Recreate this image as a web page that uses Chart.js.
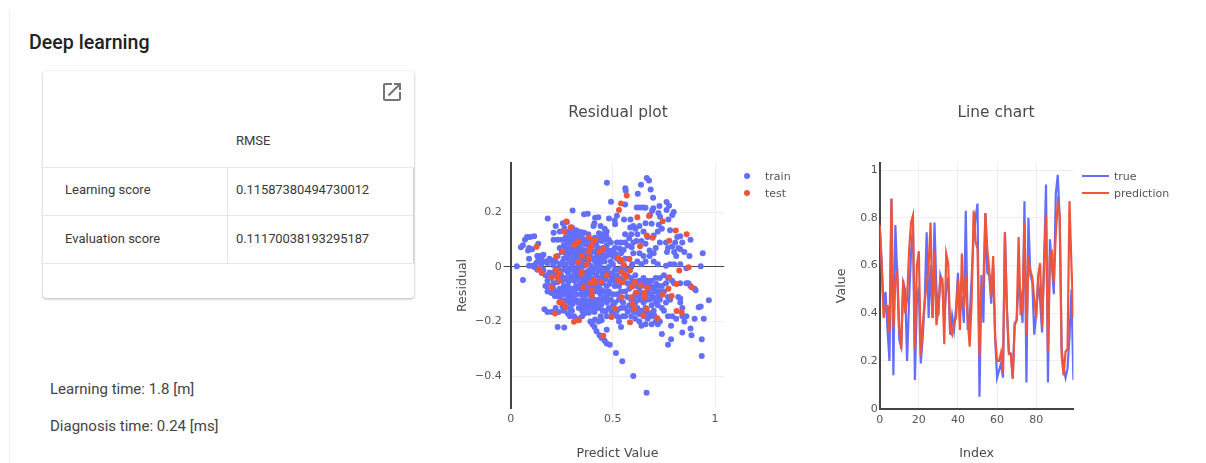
<!DOCTYPE html>
<html>
<head>
<meta charset="utf-8">
<title>Deep learning</title>
<script src="https://cdn.jsdelivr.net/npm/chart.js@4"></script>
<style>
    html, body { margin: 0; padding: 0; background: #fff; }
    body { width: 1206px; height: 463px; position: relative; overflow: hidden; font-family: Roboto, "Liberation Sans", sans-serif; color: #333; }
    .abs { position: absolute; white-space: nowrap; }
    .rule { position: absolute; background: #e6e6e6; }
    #card { position: absolute; left: 43px; top: 71px; width: 371px; height: 227px; border-radius: 4px; background: #fff;
            box-shadow: 0 1px 3px rgba(0,0,0,0.28), 0 0 2px rgba(0,0,0,0.06); }
    .cell { position: absolute; font-size: 13px; line-height: 16px; white-space: nowrap; color: #3a3a3a; }
    .num { letter-spacing: -0.1px; }
    canvas { position: absolute; top: 90px; }
    .legend-item { position: absolute; font: 11px "DejaVu Sans", sans-serif; color: #555; white-space: nowrap; line-height: 14px; }
    .legend-mark { position: absolute; }
</style>
</head>
<body>
<div class="rule" style="left:9px;top:10px;width:1px;height:453px;background:#eeeeee"></div>
<div class="abs" style="left:29px;top:31px;font-size:19.6px;font-weight:500;line-height:24px;color:#222">Deep learning</div>

<div id="card">
    <svg style="position:absolute;left:337px;top:9px" width="24" height="24" viewBox="0 0 24 24" fill="#757575"><path d="M19 19H5V5h7V3H5c-1.11 0-2 .9-2 2v14c0 1.1.89 2 2 2h14c1.1 0 2-.9 2-2v-7h-2v7zM14 3v2h3.59l-9.83 9.83 1.41 1.41L19 6.41V10h2V3h-7z"/></svg>
    <div class="cell" style="left:193px;top:62px">RMSE</div>
    <div class="rule" style="left:0;top:96px;width:371px;height:1px"></div>
    <div class="cell" style="left:22px;top:111px">Learning score</div>
    <div class="cell num" style="left:193px;top:111px">0.11587380494730012</div>
    <div class="rule" style="left:0;top:144px;width:370px;height:1px"></div>
    <div class="cell" style="left:22px;top:160px">Evaluation score</div>
    <div class="cell num" style="left:193px;top:160px">0.11170038193295187</div>
    <div class="rule" style="left:0;top:192px;width:371px;height:1px"></div>
    <div class="rule" style="left:184px;top:97px;width:1px;height:95px"></div>
    <div class="rule" style="left:370px;top:97px;width:1px;height:95px;background:#cfcfcf"></div>
</div>

<div class="abs" style="left:50px;top:380px;font-size:15px;line-height:18px;color:#444">Learning time: 1.8 [m]</div>
<div class="abs" style="left:50px;top:417px;font-size:15px;line-height:18px;color:#444">Diagnosis time: 0.24 [ms]</div>

<canvas id="residualChart" style="left:440px" width="356" height="373"></canvas>
<canvas id="lineChart" style="left:820px" width="352" height="373"></canvas>
<div id="residual-legend"></div>
<div id="line-legend"></div>

<script>
// Residual plot data: [predict value, residual]
const trainPoints = [
    // upper right
    [.666,.326],[.677,.317],[.638,.301],[.561,.288],[.563,.279],[.685,.284],[.622,.268],[.697,.254],[.763,.238],[.775,.224],
    [.728,.223],[.617,.218],[.633,.218],[.649,.218],[.66,.217],[.698,.215],[.692,.206],[.763,.209],[.723,.198],[.798,.201],
    [.791,.19],[.682,.19],[.772,.174],[.731,.184],[.555,.174],[.586,.174],[.6,.15],[.585,.145],[.61,.14],[.63,.15],
    [.66,.16],[.69,.158],[.725,.155],[.74,.14],[.72,.13],[.78,.135],[.59,.12],[.56,.12],[.58,.105],[.62,.12],
    [.65,.13],[.67,.11],[.7,.115],[.73,.09],[.76,.09],[.83,.113],[.815,.11],[.805,.09],[.88,.1],[.84,.09],
    [.79,.075],[.82,.07],[.765,.055],[.8,.055],[.81,.04],[.83,.065],[.85,.055],[.875,.04],[.94,.05],[.77,.07],
    [.6,.09],[.56,.09],[.615,.095],[.64,.095],[.66,.085],[.68,.06],[.7,.05],[.71,.07],[.68,.04],[.65,.04],
    [.63,.05],[.6,.05],[.66,.02],[.7,.02],[.72,.01],[.76,.005],[.78,.01],[.8,.01],[.83,.01],[.86,-.005],
    [.93,.003],[.595,.01],[.62,.02],[.64,.01],
    // upper middle
    [.471,.309],[.491,.239],[.56,.229],[.52,.188],[.481,.178],[.509,.17],[.511,.157],[.413,.18],[.429,.182],[.41,.16],
    [.405,.15],[.44,.15],[.46,.14],[.47,.13],[.45,.12],[.44,.11],[.43,.1],[.46,.1],[.48,.1],[.49,.09],
    [.42,.09],[.5,.06],[.52,.09],[.54,.09],[.51,.07],[.47,.08],[.45,.07],[.43,.06],[.48,.06],[.5,.04],
    [.47,.04],[.45,.03],[.42,.04],[.44,.02],[.46,.02],[.49,.02],[.52,.03],[.54,.05],[.56,.03],[.58,.03],
    [.535,.02],[.5,.01],[.48,0],[.44,0],[.42,.01],[.46,-.01],[.51,-.01],[.53,-.01],[.55,0],[.57,-.01],[.59,0],
    // upper left
    [.303,.207],[.359,.193],[.377,.195],[.181,.178],[.22,.15],[.255,.16],[.275,.165],[.24,.13],[.3,.145],[.32,.135],
    [.33,.13],[.36,.125],[.38,.12],[.29,.12],[.31,.115],[.34,.115],[.27,.11],[.29,.1],[.31,.1],[.33,.1],
    [.35,.105],[.37,.1],[.21,.1],[.23,.1],[.25,.1],[.21,.125],[.28,.09],[.3,.085],[.32,.08],[.34,.085],
    [.36,.09],[.38,.08],[.4,.08],[.26,.08],[.27,.07],[.24,.07],[.29,.07],[.31,.065],[.33,.06],[.35,.065],
    [.37,.06],[.39,.05],[.25,.055],[.27,.05],[.29,.05],[.31,.05],[.33,.04],[.35,.045],[.37,.04],[.4,.03],
    [.23,.04],[.26,.03],[.28,.03],[.3,.03],[.32,.02],[.34,.025],[.36,.02],[.38,.02],[.27,.01],[.3,.01],
    [.33,.005],[.36,.005],[.39,.005],[.41,-.005],[.24,.01],[.22,.02],[.2,.025],[.18,.015],[.19,.03],
    // far left
    [.03,.003],[.06,-.048],[.05,.072],[.06,.08],[.07,.1],[.08,.11],[.095,.11],[.115,.113],[.085,.06],[.09,.07],
    [.105,.065],[.135,.085],[.13,.04],[.145,.04],[.16,.045],[.15,.03],[.135,.025],[.125,.015],[.09,.03],[.09,.005],
    [.105,.005],[.115,0],[.13,-.01],[.17,.02],[.15,.01],
    // lower left
    [.145,-.005],[.16,-.01],[.17,-.03],[.19,-.02],[.18,-.05],[.2,-.04],[.17,-.07],[.19,-.07],[.21,-.06],[.22,-.03],
    [.24,-.02],[.26,-.01],[.28,-.02],[.3,-.01],[.32,-.01],[.34,-.02],[.36,-.02],[.38,-.015],[.4,-.02],[.25,-.05],
    [.27,-.04],[.29,-.04],[.31,-.05],[.33,-.03],[.35,-.04],[.37,-.05],[.39,-.04],[.18,-.09],[.2,-.095],[.22,-.09],
    [.24,-.08],[.26,-.07],[.28,-.07],[.3,-.08],[.32,-.07],[.34,-.06],[.36,-.07],[.38,-.07],[.4,-.06],[.24,-.11],
    [.26,-.1],[.28,-.1],[.3,-.11],[.32,-.1],[.34,-.1],[.36,-.1],[.38,-.1],[.4,-.09],[.25,-.13],[.27,-.125],
    [.29,-.13],[.31,-.12],[.33,-.13],[.35,-.12],[.37,-.13],[.39,-.12],[.41,-.12],[.165,-.155],[.18,-.165],[.2,-.165],
    [.22,-.15],[.235,-.165],[.26,-.16],[.28,-.17],[.3,-.16],[.31,-.18],[.29,-.18],[.35,-.16],[.37,-.15],[.36,-.17],
    [.39,-.15],[.23,-.22],[.262,-.222],[.35,-.18],[.33,-.19],
    // lower middle
    [.42,-.03],[.44,-.04],[.46,-.03],[.48,-.03],[.5,-.04],[.52,-.03],[.43,-.07],[.45,-.06],[.47,-.07],[.49,-.05],
    [.51,-.07],[.53,-.07],[.55,-.05],[.57,-.06],[.59,-.04],[.42,-.09],[.44,-.1],[.46,-.09],[.48,-.09],[.5,-.1],
    [.52,-.1],[.54,-.09],[.56,-.09],[.58,-.08],[.43,-.12],[.45,-.12],[.47,-.13],[.49,-.12],[.51,-.13],[.53,-.12],
    [.55,-.13],[.57,-.11],[.59,-.12],[.41,-.15],[.43,-.15],[.45,-.16],[.48,-.15],[.5,-.14],[.52,-.16],[.54,-.15],
    [.56,-.15],[.58,-.14],[.41,-.165],[.44,-.18],[.445,-.195],[.43,-.2],[.47,-.18],[.39,-.2],[.4,-.21],[.41,-.22],
    [.42,-.235],[.435,-.25],[.445,-.26],[.46,-.27],[.47,-.28],[.485,-.285],[.47,-.23],[.515,-.315],[.546,-.345],[.6,-.399],
    [.665,-.461],[.53,-.2],[.54,-.22],[.55,-.18],[.53,-.185],[.56,-.18],[.5,-.17],[.52,-.18],
    // lower right
    [.61,-.03],[.63,-.05],[.65,-.04],[.67,-.05],[.69,-.05],[.71,-.04],[.73,-.04],[.75,-.03],[.77,-.04],[.79,-.05],
    [.6,-.07],[.62,-.07],[.64,-.07],[.66,-.07],[.68,-.07],[.7,-.08],[.72,-.07],[.74,-.07],[.76,-.06],[.8,-.06],
    [.83,-.06],[.86,-.06],[.87,-.06],[.88,-.07],[.9,-.08],[.905,-.085],[.61,-.1],[.63,-.09],[.65,-.1],[.67,-.09],
    [.69,-.1],[.71,-.09],[.73,-.09],[.75,-.09],[.77,-.11],[.82,-.11],[.83,-.115],[.61,-.13],[.63,-.12],[.65,-.13],
    [.67,-.12],[.69,-.14],[.71,-.13],[.73,-.12],[.76,-.13],[.78,-.12],[.83,-.13],[.84,-.15],[.97,-.122],[.93,-.145],
    [.92,-.147],[.6,-.16],[.62,-.15],[.64,-.16],[.66,-.15],[.68,-.17],[.7,-.16],[.72,-.14],[.75,-.16],[.74,-.15],
    [.77,-.18],[.79,-.18],[.81,-.19],[.59,-.18],[.61,-.19],[.63,-.2],[.65,-.18],[.67,-.19],[.69,-.18],[.71,-.2],
    [.73,-.2],[.72,-.21],[.64,-.215],[.66,-.21],[.69,-.21],[.74,-.245],[.785,-.215],[.84,-.18],[.86,-.18],[.85,-.2],
    [.9,-.19],[.945,-.19],[.88,-.225],[.84,-.24],[.885,-.25],[.935,-.265],[.935,-.326],[.785,-.265],[.77,-.285],
    // dense core, left of 0.5
    [.283,.128],[.307,.133],[.322,.117],[.347,.127],[.263,.143],[.274,.097],[.296,.113],[.315,.092],[.338,.072],[.352,.096],
    [.367,.083],[.392,.098],[.412,.107],[.432,.124],[.447,.095],[.468,.113],[.283,.062],[.303,.058],[.322,.051],[.344,.053],
    [.362,.037],[.384,.043],[.408,.058],[.423,.073],[.442,.048],[.463,.063],[.487,.047],[.274,.038],[.293,.021],[.314,.036],
    [.352,.012],[.372,.027],[.393,.033],[.413,.021],[.433,.034],[.456,.044],[.208,.006],[.233,-.008],[.253,.017],[.283,-.007],
    [.313,-.027],[.343,-.008],[.373,-.03],[.396,-.013],[.428,-.013],[.448,-.022],[.472,-.017],[.497,-.022],[.193,-.036],[.212,-.018],
    [.183,-.072],[.207,-.077],[.228,-.056],[.247,-.031],[.263,-.047],[.283,-.053],[.302,-.034],[.323,-.046],[.342,-.036],[.362,-.054],
    [.383,-.033],[.403,-.043],[.433,-.05],[.463,-.046],[.483,-.062],[.217,-.107],[.236,-.094],[.252,-.088],[.273,-.086],[.293,-.092],
    [.313,-.083],[.333,-.078],[.353,-.088],[.373,-.083],[.393,-.076],[.413,-.073],[.443,-.083],[.473,-.103],[.263,-.122],[.283,-.116],
    [.303,-.136],[.323,-.122],[.343,-.136],[.363,-.118],[.383,-.136],[.403,-.134],[.423,-.136],[.443,-.139],[.463,-.112],[.273,-.147],
    [.293,-.153],[.333,-.15],[.352,-.143],[.383,-.168],[.413,-.192],[.463,-.162],[.493,-.163],[.253,-.145],
    // right of 0.5, in between the rows
    [.513,.048],[.533,.068],[.553,.062],[.572,.079],[.592,.072],[.513,-.052],[.532,-.043],[.553,-.028],[.573,-.033],[.593,-.057],
    [.613,-.053],[.633,-.072],[.653,-.058],[.673,-.083],[.693,-.073],[.713,-.062],[.603,-.113],[.623,-.103],[.643,-.114],[.663,-.103],
    [.683,-.118],[.703,-.113],[.723,-.107],[.613,-.168],[.633,-.173],[.653,-.163],[.673,-.172],[.703,-.178],[.593,-.148],[.573,-.163]
];
const testPoints = [
    [.127,.074],[.139,-.009],[.152,-.022],[.2,-.038],[.2,-.074],[.217,-.17],[.222,.038],[.22,-.011],[.238,-.021],[.228,-.038],
    [.238,-.05],[.238,-.129],[.25,-.128],[.266,-.146],[.253,.057],[.261,.13],[.272,.167],[.294,.146],[.31,.08],[.323,.087],
    [.331,.093],[.331,.018],[.347,.04],[.347,-.017],[.347,-.026],[.356,-.074],[.31,-.201],[.334,-.195],[.372,.009],[.383,.032],
    [.383,.056],[.383,.109],[.405,.099],[.413,.099],[.396,.08],[.388,.068],[.388,-.06],[.408,-.048],[.413,-.057],[.396,-.084],
    [.398,-.106],[.434,.056],[.453,.066],[.444,-.054],[.47,-.03],[.453,-.252],[.493,-.183],[.511,-.152],[.53,.209],[.54,.233],
    [.568,.262],[.527,.032],[.543,.026],[.555,.007],[.581,.029],[.543,-.017],[.555,-.026],[.564,-.038],[.527,-.048],[.546,-.056],
    [.584,-.013],[.543,-.111],[.592,-.072],[.608,-.057],[.638,-.068],[.669,-.076],[.613,-.093],[.653,-.094],[.592,-.111],[.653,-.112],
    [.597,-.135],[.605,-.154],[.666,-.154],[.649,-.178],[.584,-.202],[.718,-.188],[.744,-.102],[.772,-.08],[.788,-.106],[.776,-.038],
    [.812,-.062],[.812,-.161],[.837,-.166],[.886,-.074],[.825,-.013],[.871,-.001],[.861,.12],[.808,.134],[.776,.096],[.744,.168],
    [.677,.187],[.62,.182],[.633,.076],[.666,.115],[.695,.107]
];

// Line chart data: one value per index, 0 to 99
const trueValues = [
    .77,.62,.42,.49,.33,.20,.88,.14,.77,.55, .29,.26,.53,.50,.20,.45,.65,.77,.12,.45,
    .51,.19,.30,.45,.74,.38,.60,.38,.78,.50, .39,.56,.53,.37,.50,.55,.31,.39,.33,.42,
    .57,.40,.47,.36,.83,.33,.38,.55,.72,.80, .86,.05,.56,.36,.82,.57,.56,.44,.60,.30,
    .13,.16,.19,.13,.74,.42,.24,.23,.13,.36, .37,.53,.49,.36,.87,.11,.80,.56,.53,.31,
    .40,.53,.45,.32,.60,.94,.11,.71,.60,.48, .90,.98,.80,.25,.17,.13,.17,.30,.50,.12
];
const predictionValues = [
    .77,.60,.38,.43,.43,.32,.88,.34,.54,.57, .34,.25,.54,.40,.46,.66,.78,.81,.25,.60,
    .66,.22,.35,.45,.52,.60,.78,.38,.66,.35, .42,.55,.545,.27,.65,.61,.33,.31,.36,.38,
    .54,.33,.65,.42,.56,.37,.26,.45,.83,.70, .67,.22,.52,.52,.82,.67,.58,.47,.64,.30,
    .20,.20,.235,.15,.74,.42,.23,.23,.125,.35, .37,.72,.40,.41,.78,.31,.62,.58,.55,.46,
    .38,.56,.61,.34,.62,.81,.24,.64,.655,.53, .73,.86,.81,.22,.14,.24,.25,.87,.60,.38
];
const lineIndex = trueValues.map((_, i) => i);

const scatterXTicks = [0, 0.5, 1];
const scatterYTicks = [-0.4, -0.2, 0, 0.2];

const fontName = '"DejaVu Sans", Verdana, sans-serif';
const blue = '#636efa';
const red = '#ef553b';
const textColor = '#555';
const axisColor = '#444';
const gridColor = '#eeeeee';

function axisTitle(text, padding) {
    return { display: true, text: text, color: '#4a4a4a', font: { family: fontName, size: 12.6 }, padding: padding };
}

function plotTitle(text) {
    return { display: true, text: text, color: '#4a4a4a', font: { family: fontName, size: 15.4, weight: 'normal' }, padding: { top: 14, bottom: 40.5 } };
}

// Empty axis on the right, keeps room for the legend while the title stays centered on the whole canvas
function legendGutter(width) {
    return {
        position: 'right',
        afterFit: s => { s.width = width; },
        border: { display: false },
        grid: { display: false },
        ticks: { display: false }
    };
}

const tickFont = { family: fontName, size: 11 };

// Minus sign like the original axis labels
function residualLabel(value) {
    if (Math.abs(value) < 1e-9) return '0';
    return (value < 0 ? '\u2212' : '') + Math.abs(value);
}

// ==================== RESIDUAL PLOT ====================
new Chart(document.getElementById('residualChart').getContext('2d'), {
    type: 'scatter',
    data: {
        datasets: [
            { label: 'train', order: 2, data: trainPoints.map(p => ({ x: p[0], y: p[1] })), backgroundColor: blue, borderWidth: 0, pointRadius: 3 },
            { label: 'test', order: 1, data: testPoints.map(p => ({ x: p[0], y: p[1] })), backgroundColor: red, borderWidth: 0, pointRadius: 3 }
        ]
    },
    options: {
        responsive: false,
        animation: false,
        layout: { padding: 0 },
        plugins: { legend: { display: false }, tooltip: { enabled: false }, title: plotTitle('Residual plot') },
        scales: {
            x: {
                type: 'linear', min: 0, max: 1.0455,
                afterBuildTicks: s => { s.ticks = scatterXTicks.map(v => ({ value: v })); },
                afterFit: s => { s.height = 55; },
                border: { display: false },
                grid: { color: gridColor, drawTicks: false },
                ticks: { color: textColor, font: tickFont, padding: 5, maxRotation: 0, callback: v => String(v) },
                title: axisTitle('Predict Value', { top: 0, bottom: 2 })
            },
            y: {
                min: -0.5165, max: 0.381,
                afterBuildTicks: s => { s.ticks = scatterYTicks.map(v => ({ value: v })); },
                afterFit: s => { s.width = 70.7; },
                border: { color: axisColor, width: 2 },
                grid: {
                    tickLength: 7,
                    color: c => (c.tick && c.tick.value === 0 ? axisColor : gridColor),
                    tickColor: c => (c.tick && c.tick.value === 0 ? axisColor : 'rgba(0,0,0,0)')
                },
                ticks: { color: textColor, font: tickFont, padding: 2, callback: residualLabel },
                title: axisTitle('Residual', { top: 15, bottom: 0 })
            },
            gutter: legendGutter(71.7)
        }
    }
});

// ==================== LINE CHART ====================
new Chart(document.getElementById('lineChart').getContext('2d'), {
    type: 'line',
    data: {
        labels: lineIndex,
        datasets: [
            { label: 'true', order: 2, data: trueValues, borderColor: blue, backgroundColor: blue, borderWidth: 2.2, pointRadius: 0, tension: 0 },
            { label: 'prediction', order: 1, data: predictionValues, borderColor: red, backgroundColor: red, borderWidth: 2.2, pointRadius: 0, tension: 0 }
        ]
    },
    options: {
        responsive: false,
        animation: false,
        layout: { padding: 0 },
        plugins: { legend: { display: false }, tooltip: { enabled: false }, title: plotTitle('Line chart') },
        scales: {
            x: {
                type: 'linear', min: 0, max: 99,
                afterFit: s => { s.height = 54.3; },
                border: { color: axisColor, width: 2 },
                grid: { color: gridColor, drawTicks: false },
                ticks: { stepSize: 20, includeBounds: false, color: textColor, font: tickFont, padding: 5, maxRotation: 0 },
                title: axisTitle('Index', { top: 0, bottom: 2 })
            },
            y: {
                min: 0, max: 1.03,
                afterFit: s => { s.width = 59.7; },
                border: { color: axisColor, width: 2 },
                grid: { color: gridColor, drawTicks: false },
                ticks: { stepSize: 0.2, includeBounds: false, color: textColor, font: tickFont, padding: 2, callback: v => String(v) },
                title: axisTitle('Value', { top: 14, bottom: 0 })
            },
            gutter: legendGutter(98.6)
        }
    }
});

// Legends built like the plotly ones, next to each plot
function addLegendRow(container, label, color, kind, y, markX, textX) {
    const mark = document.createElement('div');
    mark.className = 'legend-mark';
    if (kind === 'dot') {
        mark.style.cssText = `left:${markX}px;top:${y - 3}px;width:6px;height:6px;border-radius:50%;background:${color}`;
    } else {
        mark.style.cssText = `left:${markX}px;top:${y - 1}px;width:27px;height:2px;background:${color}`;
    }
    container.appendChild(mark);
    const text = document.createElement('div');
    text.className = 'legend-item';
    text.style.left = textX + 'px';
    text.style.top = (y - 6) + 'px';
    text.textContent = label;
    container.appendChild(text);
}

const residualLegend = document.getElementById('residual-legend');
addLegendRow(residualLegend, 'train', blue, 'dot', 176, 744, 765);
addLegendRow(residualLegend, 'test', red, 'dot', 193, 744, 765);
const lineLegend = document.getElementById('line-legend');
addLegendRow(lineLegend, 'true', blue, 'line', 175.5, 1082, 1114);
addLegendRow(lineLegend, 'prediction', red, 'line', 193, 1082, 1114);
</script>
</body>
</html>
